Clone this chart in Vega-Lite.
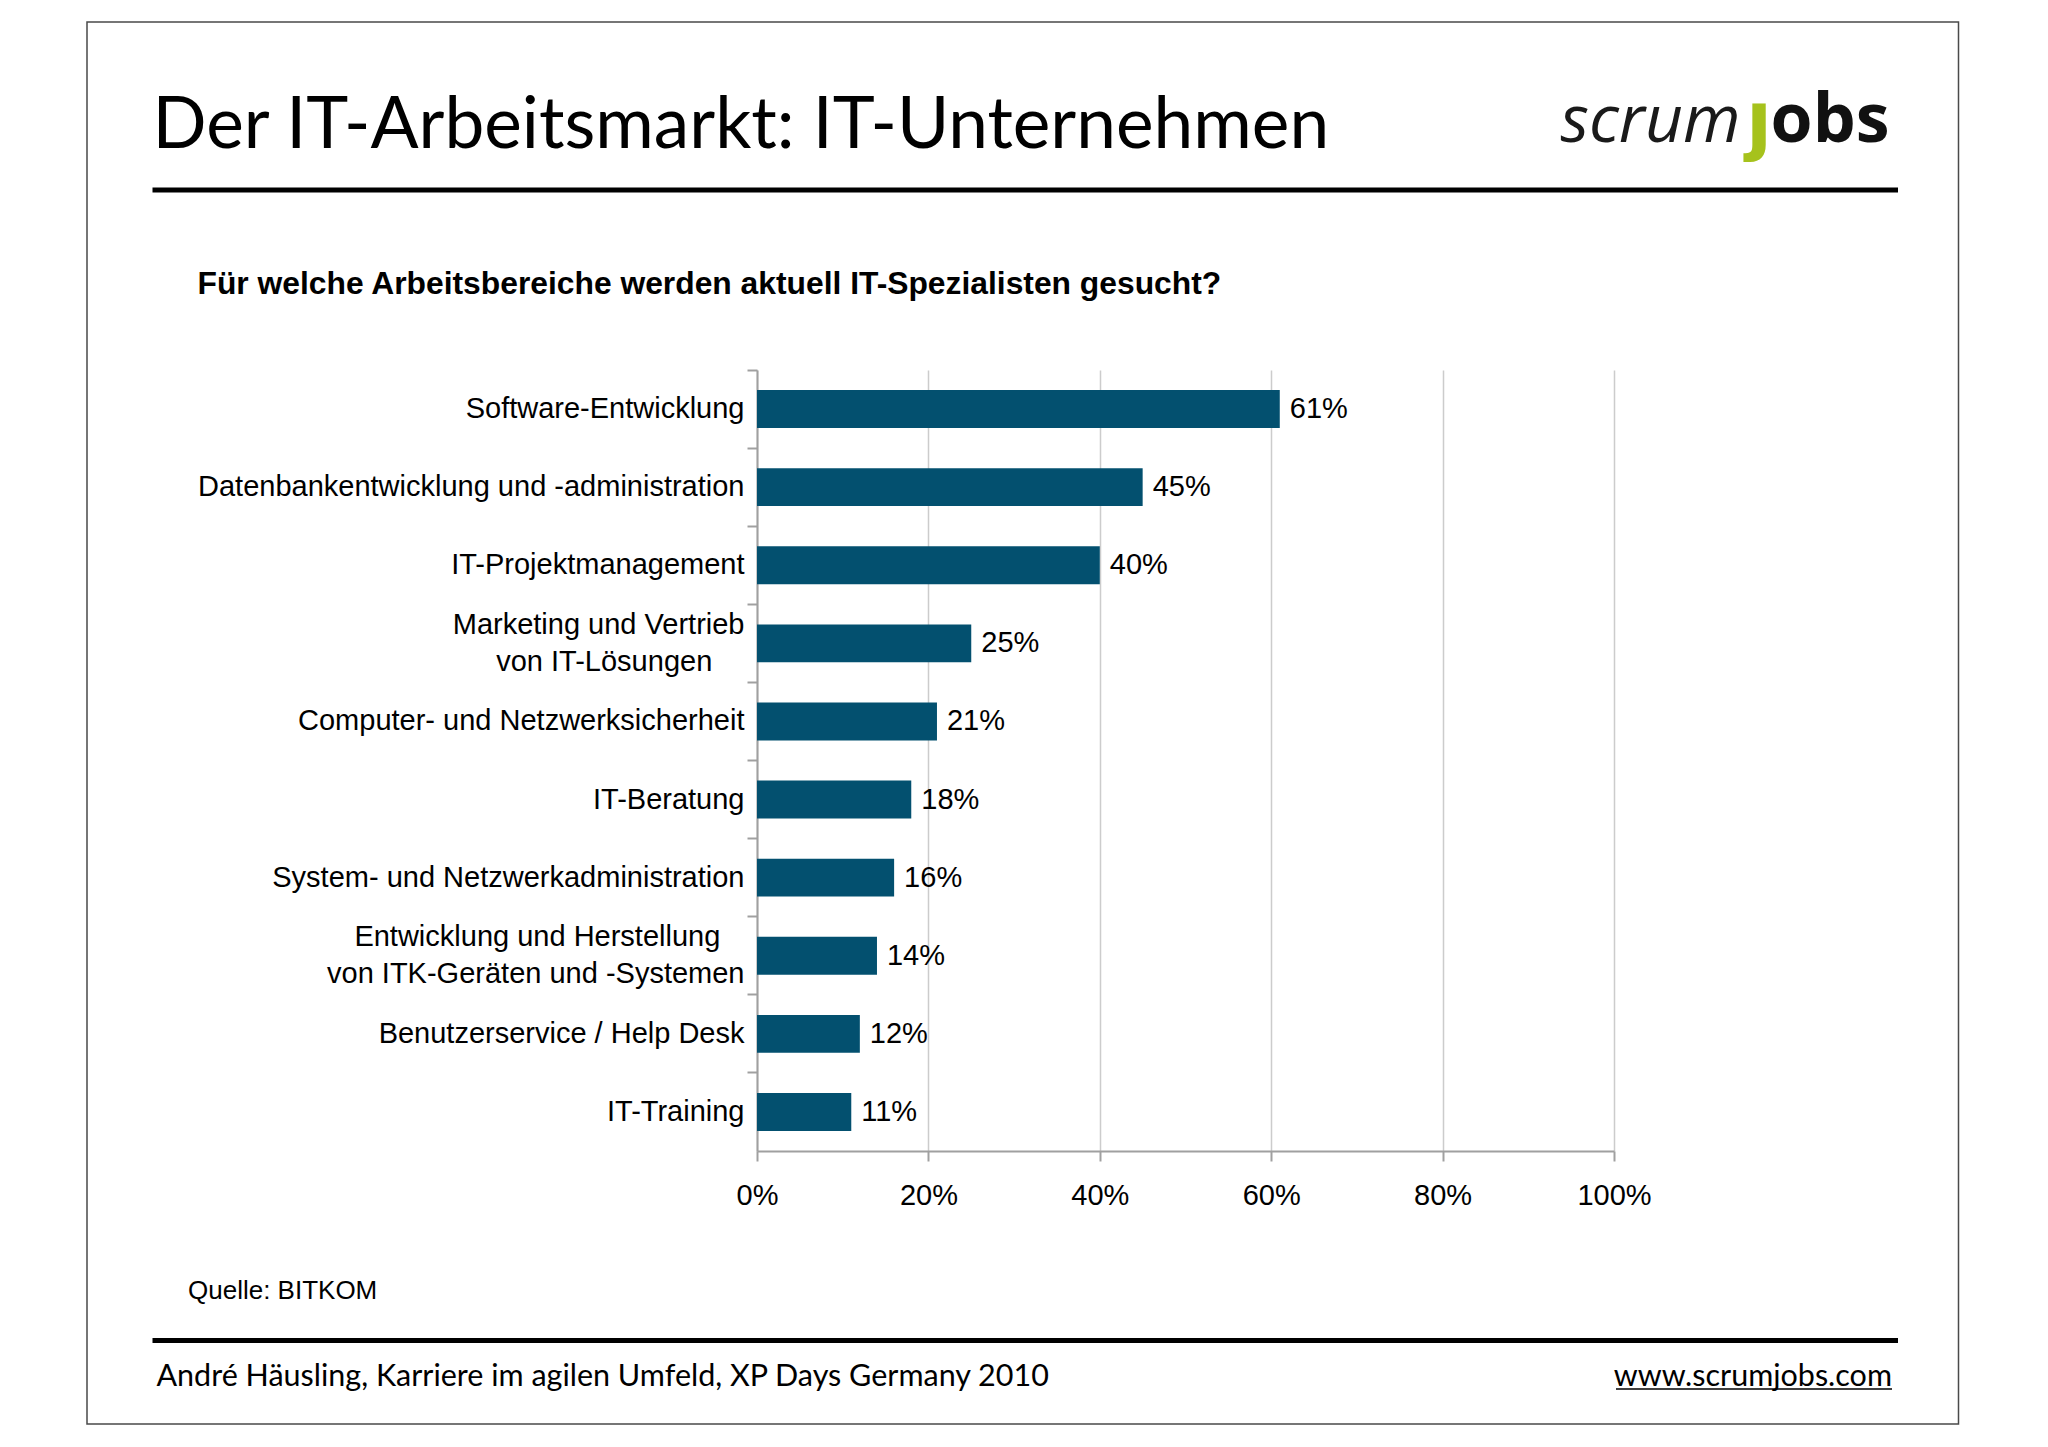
{
  "$schema": "https://vega.github.io/schema/vega-lite/v6.json",
  "width": 857,
  "height": 781,
  "autosize": {"type": "none"},
  "padding": {"left": 757, "top": 370, "right": 434, "bottom": 296},
  "background": "white",
  "config": {"view": {"stroke": null}, "font": "Liberation Sans"},
  "data": {"values": [
    {"bereich": "Software-Entwicklung", "anteil": 0.61},
    {"bereich": "Datenbankentwicklung und -administration", "anteil": 0.45},
    {"bereich": "IT-Projektmanagement", "anteil": 0.40},
    {"bereich": "Marketing und Vertrieb|von IT-Lösungen\u00a0\u00a0\u00a0\u00a0\u200b", "anteil": 0.25},
    {"bereich": "Computer- und Netzwerksicherheit", "anteil": 0.21},
    {"bereich": "IT-Beratung", "anteil": 0.18},
    {"bereich": "System- und Netzwerkadministration", "anteil": 0.16},
    {"bereich": "Entwicklung und Herstellung\u00a0\u00a0\u00a0\u200b|von ITK-Geräten und -Systemen", "anteil": 0.14},
    {"bereich": "Benutzerservice / Help Desk", "anteil": 0.12},
    {"bereich": "IT-Training", "anteil": 0.11}
  ]},
  "resolve": {"axis": {"y": "independent"}},
  "layer": [
    {
      "mark": {"type": "bar", "color": "#03506f", "height": {"band": 0.485}},
      "encoding": {
        "y": {
          "field": "bereich", "type": "nominal", "sort": null,
          "scale": {"paddingInner": 0, "paddingOuter": 0},
          "axis": {
            "title": null, "orient": "left",
            "labelExpr": "split(datum.label, '|')",
            "labelFont": "Liberation Sans", "labelFontSize": 29, "labelColor": "#000000",
            "labelPadding": 13, "labelLineHeight": 37, "labelLimit": 0,
            "labelOffset": {"condition": {"test": "indexof(datum.value, '|') >= 0", "value": -18.5}, "value": 0},
            "ticks": false, "domain": true, "domainColor": "#a0a0a0", "domainWidth": 2, "grid": false
          }
        },
        "x": {
          "field": "anteil", "type": "quantitative",
          "scale": {"domain": [0, 1], "nice": false},
          "axis": {
            "title": null, "values": [0, 0.2, 0.4, 0.6, 0.8, 1], "format": ".0%", "labelFlush": false,
            "grid": true, "gridColor": "#cccccc", "gridWidth": 1.5,
            "domainColor": "#a0a0a0", "domainWidth": 2,
            "tickColor": "#a0a0a0", "tickWidth": 2, "tickSize": 10,
            "labelFont": "Liberation Sans", "labelFontSize": 29, "labelColor": "#000000", "labelPadding": 20
          }
        }
      }
    },
    {
      "mark": {"type": "text", "align": "left", "baseline": "middle", "dx": 10, "font": "Liberation Sans", "fontSize": 29, "color": "#000000"},
      "encoding": {
        "y": {
          "field": "bereich", "type": "nominal", "sort": null,
          "axis": {
            "title": null, "orient": "left", "labels": false, "domain": false, "grid": false,
            "ticks": true, "tickSize": 10, "tickColor": "#a0a0a0", "tickWidth": 2, "bandPosition": 0
          }
        },
        "x": {"field": "anteil", "type": "quantitative"},
        "text": {"field": "anteil", "type": "quantitative", "format": ".0%"}
      }
    },
    {
      "data": {"values": [{"rahmen": "Folie"}]},
      "mark": {"type": "rect", "fillOpacity": 0, "stroke": "#4a4a4a", "strokeWidth": 1.5},
      "encoding": {"x": {"value": -670}, "x2": {"value": 1201.5}, "y": {"value": -348}, "y2": {"value": 1054}}
    },
    {
      "data": {"values": [{"linie": "oben"}]},
      "mark": {"type": "rule", "color": "#000000", "strokeWidth": 5},
      "encoding": {"x": {"value": -604.5}, "x2": {"value": 1141}, "y": {"value": -180}}
    },
    {
      "data": {"values": [{"linie": "unten"}]},
      "mark": {"type": "rule", "color": "#000000", "strokeWidth": 5},
      "encoding": {"x": {"value": -604.5}, "x2": {"value": 1141}, "y": {"value": 970.5}}
    },
    {
      "data": {"values": [{"t": "Der IT-Arbeitsmarkt: IT-Unternehmen"}]},
      "mark": {"type": "text", "align": "left", "baseline": "alphabetic", "font": "Lato", "fontSize": 71.2, "color": "#000000"},
      "encoding": {"text": {"field": "t"}, "x": {"value": -604.5}, "y": {"value": -222}}
    },
    {
      "data": {"values": [{"t": "Für welche Arbeitsbereiche werden aktuell IT-Spezialisten gesucht?"}]},
      "mark": {"type": "text", "align": "left", "baseline": "alphabetic", "font": "Liberation Sans", "fontWeight": "bold", "fontSize": 31.8, "color": "#000000"},
      "encoding": {"text": {"field": "t"}, "x": {"value": -559.5}, "y": {"value": -76.5}}
    },
    {
      "data": {"values": [{"t": "scrum"}]},
      "mark": {"type": "text", "align": "left", "baseline": "alphabetic", "font": "Open Sans", "fontStyle": "italic", "fontSize": 66, "color": "#1a1a1a"},
      "encoding": {"text": {"field": "t"}, "x": {"value": 803.5}, "y": {"value": -228.5}}
    },
    {
      "data": {"values": [{"t": "ȷ"}]},
      "mark": {"type": "text", "align": "center", "baseline": "alphabetic", "font": "DejaVu Sans", "fontWeight": "bold", "fontSize": 76, "color": "#a6c21c"},
      "encoding": {"text": {"field": "t"}, "x": {"value": 1002}, "y": {"value": -225}}
    },
    {
      "data": {"values": [{"t": "obs"}]},
      "mark": {"type": "text", "align": "right", "baseline": "alphabetic", "font": "Open Sans", "fontWeight": "bold", "fontSize": 68, "color": "#111111"},
      "encoding": {"text": {"field": "t"}, "x": {"value": 1132.5}, "y": {"value": -228.5}}
    },
    {
      "data": {"values": [{"t": "Quelle: BITKOM"}]},
      "mark": {"type": "text", "align": "left", "baseline": "alphabetic", "font": "Liberation Sans", "fontSize": 26, "color": "#000000"},
      "encoding": {"text": {"field": "t"}, "x": {"value": -569}, "y": {"value": 928.5}}
    },
    {
      "data": {"values": [{"t": "André Häusling, Karriere im agilen Umfeld, XP Days Germany 2010"}]},
      "mark": {"type": "text", "align": "left", "baseline": "alphabetic", "font": "Lato", "fontSize": 30.5, "color": "#000000"},
      "encoding": {"text": {"field": "t"}, "x": {"value": -600.5}, "y": {"value": 1015.5}}
    },
    {
      "data": {"values": [{"t": "www.scrumjobs.com"}]},
      "mark": {"type": "text", "align": "right", "baseline": "alphabetic", "font": "Lato", "fontSize": 30.5, "color": "#000000"},
      "encoding": {"text": {"field": "t"}, "x": {"value": 1135}, "y": {"value": 1015.5}}
    },
    {
      "data": {"values": [{"linie": "unterstrich"}]},
      "mark": {"type": "rule", "color": "#000000", "strokeWidth": 1.5},
      "encoding": {"x": {"value": 859}, "x2": {"value": 1135}, "y": {"value": 1019}}
    }
  ]
}
